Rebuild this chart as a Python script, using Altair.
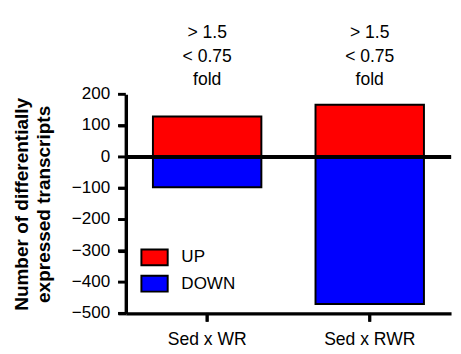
import altair as alt
import pandas as pd

groups = ["Sed x WR", "Sed x RWR"]
up_values = [129, 167]
down_values = [-97, -470]
directions = ["UP", "DOWN"]
colors = ["#ff0000", "#0000ff"]
fold_lines = ["> 1.5\u00a0\u00a0", "< 0.75", "\u00a0\u00a0fold"]
y_ticks = [-500, -400, -300, -200, -100, 0, 100, 200]
y_tick_labels = ["\u2212500", "\u2212400", "\u2212300", "\u2212200", "\u2212100", "0", "100", "200"]
y_title = ["Number of differentially", "expressed transcripts"]

rows = []
for g, u, d in zip(groups, up_values, down_values):
    rows.append({"group": g, "direction": "UP", "value": u})
    rows.append({"group": g, "direction": "DOWN", "value": d})
df = pd.DataFrame(rows)
label_df = pd.DataFrame({"group": groups})
tick_df = pd.DataFrame({"value": y_ticks, "label": y_tick_labels})

FONT = "Liberation Sans"

x_scale = alt.Scale(domain=groups, paddingInner=0.333, paddingOuter=0.1667)
y_scale = alt.Scale(domain=[-500, 200], nice=False, zero=False)

bars = alt.Chart(df).mark_bar(stroke="black", strokeWidth=2).encode(
    x=alt.X("group:N", scale=x_scale, sort=groups,
            axis=alt.Axis(title=None, labelAngle=0, ticks=True,
                          tickSize=8, tickWidth=3, tickColor="black")),
    y=alt.Y("value:Q", scale=y_scale, stack=None,
            axis=alt.Axis(values=y_ticks, title=y_title, ticks=True,
                          tickSize=8, tickWidth=3, tickColor="black",
                          labelOpacity=0)),
    color=alt.Color(
        "direction:N",
        scale=alt.Scale(domain=directions, range=colors),
        legend=alt.Legend(
            title=None, orient="none", legendX=15, legendY=153, padding=0,
            symbolType="M-1,-0.6H1V0.6H-1Z", symbolSize=729,
            symbolStrokeColor="black", symbolStrokeWidth=2, symbolOpacity=1,
            labelFont=FONT, labelFontSize=17.5, labelColor="black", labelOffset=13,
            rowPadding=0,
        ),
    ),
)

zero = alt.Chart(df).mark_rule(color="black", strokeWidth=3.5).encode(
    y=alt.datum(0)
)

# y-axis tick marks and labels, placed by the y scale
y_tick_marks = alt.Chart(tick_df).mark_rule(color="black", strokeWidth=3).encode(
    y=alt.Y("value:Q", scale=y_scale),
    x=alt.value(-8),
    x2=alt.value(0),
)
y_tick_text = alt.Chart(tick_df).mark_text(
    font=FONT, fontSize=17.5, color="black", align="right", baseline="middle",
).encode(
    y=alt.Y("value:Q", scale=y_scale),
    x=alt.value(-16),
    text="label:N",
)

# x-axis tick marks, placed by the x scale at band centres
x_tick_marks = alt.Chart(label_df).mark_tick(
    color="black", orient="vertical", size=9, thickness=3, opacity=1,
).encode(
    x=alt.X("group:N", scale=x_scale, sort=groups),
    y=alt.value(229),
)

line_offsets = [-57.5, -33.5, -10]
text_layers = []
for line, off in zip(fold_lines, line_offsets):
    text_layers.append(
        alt.Chart(label_df).mark_text(
            font=FONT, fontSize=18, color="black", align="center",
            baseline="alphabetic", dy=off,
        ).encode(
            x=alt.X("group:N", sort=groups),
            y=alt.datum(200),
            text=alt.value(line),
        )
    )

chart = alt.layer(
    bars, zero, y_tick_marks, y_tick_text, x_tick_marks, *text_layers
).properties(
    width=334, height=225,
    padding={"left": 3, "top": 12, "right": 0, "bottom": 0},
).configure_view(stroke=None).configure_axis(
    domainColor="black", domainWidth=3.5, grid=False,
    labelFont=FONT, labelColor="black",
).configure_axisX(
    labelFontSize=18, labelPadding=10,
).configure_axisY(
    labelFontSize=17.5, labelPadding=8,
    titleFont=FONT, titleFontSize=19.5, titleFontWeight="bold", titleColor="black",
    titleLineHeight=23, titlePadding=19,
)

chart.save("out.html", embed_options={"renderer": "svg", "actions": False})
